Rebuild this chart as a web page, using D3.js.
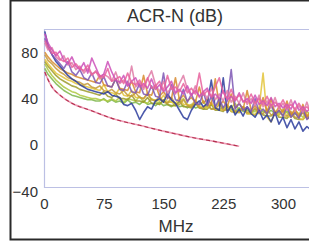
<!DOCTYPE html>
<html>
<head>
<meta charset="utf-8">
<script src="https://cdn.jsdelivr.net/npm/d3@7"></script>
<style>
  body { margin: 0; background: #fff; }
  text { font-family: "Liberation Sans", Arial, sans-serif; fill: #333; }
</style>
</head>
<body>
<div id="chart"></div>
<script>
// sample grid of the analyser sweep (MHz)
const freqs = [1].concat(d3.range(5, 340, 5));

const pink    = [90,85,79,80,74,72,75,67,70,66,64,69,61,63,60,58,66,55,57,59,53,62,54,52,56,50,58,49,51,55,47,60,48,50,46,53,45,49,44,62,43,47,42,50,58,45,40,48,39,43,38,37,44,36,40,35,42,34,37,33,39,32,35,31,36,30,33,29];
const magenta = [96,88,82,77,81,73,70,76,68,65,71,62,75,67,59,61,72,63,56,54,60,51,55,58,50,53,49,57,48,52,46,50,55,45,48,44,51,43,47,42,46,49,41,44,40,47,39,42,38,45,37,40,36,43,35,38,34,41,33,36,32,35,31,38,30,33,29,32];
const rose    = [88,82,84,76,73,77,69,71,65,68,62,66,60,64,57,61,59,55,63,53,56,51,68,50,54,48,57,64,52,46,55,45,50,44,53,60,48,42,51,41,46,40,49,39,44,38,47,37,42,36,45,35,40,34,43,33,38,32,41,31,36,30,39,29,34,28,37,27];
const orange  = [80,76,72,69,66,64,62,61,59,58,57,56,55,54,60,52,51,50,57,49,48,47,55,46,45,60,44,43,52,42,46,41,40,58,39,43,38,41,37,50,36,40,35,57,34,38,33,44,32,36,31,47,30,34,29,41,28,40,27,33,28,38,26,31,25,35,24,30];
const tan     = [78,73,70,66,63,61,58,57,55,54,52,53,50,49,51,47,46,48,45,44,47,43,42,45,41,40,44,39,38,42,37,36,41,35,35,39,34,33,38,32,32,36,31,31,35,30,30,34,29,29,33,28,28,32,27,27,31,26,26,30,25,25,29,24,24,28,23,23];
const olive   = [72,68,64,60,57,55,53,51,50,48,47,46,45,44,43,46,42,41,44,40,40,39,43,38,38,37,41,36,36,35,39,35,34,34,38,33,33,32,36,32,31,31,35,30,30,29,33,29,28,28,32,27,27,26,30,26,25,25,29,24,24,23,27,23,22,22,26,21];
const lime    = [70,65,60,56,53,50,48,46,45,43,42,41,40,40,39,39,38,40,38,41,37,40,39,38,42,37,36,40,38,35,39,36,38,34,37,40,35,33,36,34,38,32,35,33,37,31,34,32,36,30,33,31,28,29,32,30,27,34,29,26,31,28,25,30,27,24,29,26];
const green   = [66,61,57,53,50,47,45,43,42,41,40,39,39,38,38,40,37,39,37,38,36,39,36,37,35,38,35,36,34,37,34,35,33,36,33,34,32,35,32,33,31,34,31,32,30,33,30,31,29,32,29,30,28,31,28,29,27,30,27,28,26,29,26,27,25,28,25,26];
const yellow  = [74,70,66,62,60,58,56,55,53,52,51,50,49,48,47,52,46,45,44,49,43,42,47,41,41,40,45,39,39,38,43,37,37,36,41,35,35,34,39,33,33,32,37,31,31,30,35,29,29,28,33,27,27,26,32,62,24,20,28,26,30,25,24,29,23,22,27,21];
const blue    = [98,86,78,72,68,64,60,57,55,52,50,48,47,46,45,44,46,43,42,41,35,34,36,30,22,28,33,31,38,40,37,44,39,36,30,24,22,30,35,38,33,36,56,32,30,58,28,34,26,31,25,33,27,24,30,22,26,20,28,18,24,15,22,14,20,12,16,13];
const purple  = [92,84,78,74,70,66,72,63,60,65,58,56,62,54,53,59,51,50,57,48,47,55,46,45,53,44,43,51,42,41,62,40,52,39,38,48,37,44,36,35,46,34,42,33,40,32,38,65,31,36,30,33,29,40,28,31,27,35,26,30,25,33,24,28,23,31,22,26];

// limit line (MHz, dB)
const limitF = [1, 4, 10, 20, 35, 58, 90, 120, 150, 183, 215, 245];
const limitV = [63, 58, 50, 43, 36, 30, 22, 17, 12, 7, 3, -1];

const xTicks = [0, 75, 150, 225, 300];
const yTicks = [80, 40, 0, -40];

const series = [
  {name: 'green', values: green, color: '#7cb64a'},
  {name: 'lime', values: lime, color: '#aec83e'},
  {name: 'olive', values: olive, color: '#9c9a2c'},
  {name: 'yellow', values: yellow, color: '#e3c43a'},
  {name: 'tan', values: tan, color: '#c49a3a'},
  {name: 'orange', values: orange, color: '#d78a2e'},
  {name: 'blue', values: blue, color: '#2b3c9c'},
  {name: 'purple', values: purple, color: '#7c56b4'},
  {name: 'rose', values: rose, color: '#df7aa6'},
  {name: 'magenta', values: magenta, color: '#cc4fb8'},
  {name: 'pink', values: pink, color: '#e8609c'}
];

const W = 309, H = 242;
const plot = {left: 44, top: 29, bottom: 187, right: 330};

const svg = d3.select('#chart').append('svg')
    .attr('width', W)
    .attr('height', H);

const x = d3.scaleLinear().domain([0, 300]).range([44, 283]);
const y = d3.scaleLinear().domain([-40, 100]).range([191.5, 29]);

// outer frame
svg.append('rect')
    .attr('x', 10.5).attr('y', 0.5)
    .attr('width', 400).attr('height', 239)
    .attr('fill', 'none')
    .attr('stroke', '#2a2a2a')
    .attr('stroke-width', 2);

svg.append('defs').append('clipPath').attr('id', 'clip')
  .append('rect')
    .attr('x', plot.left).attr('y', plot.top - 2)
    .attr('width', plot.right - plot.left)
    .attr('height', plot.bottom - plot.top + 2);

// plot area border
svg.append('path')
    .attr('d', 'M' + plot.right + ',' + (plot.top + 0.5) + 'H' + (plot.left + 0.5) + 'V' + (plot.bottom + 0.5) + 'H' + plot.right)
    .attr('fill', 'none')
    .attr('stroke', '#bcc0e4')
    .attr('stroke-width', 1.2);

const line = d3.line()
    .x((d, i) => x(freqs[i]))
    .y(d => y(d));

const g = svg.append('g').attr('clip-path', 'url(#clip)');

g.selectAll('.trace')
  .data(series)
  .enter().append('path')
    .attr('class', 'trace')
    .attr('d', d => line(d.values))
    .attr('fill', 'none')
    .attr('stroke', d => d.color)
    .attr('stroke-width', 1.6)
    .attr('stroke-linejoin', 'round')
    .attr('opacity', 0.85);

// limit line: pink with darker dashes on top
const limitLine = d3.line()
    .curve(d3.curveMonotoneX)
    .x((d, i) => x(limitF[i]))
    .y(d => y(d));

g.append('path')
    .attr('d', limitLine(limitV))
    .attr('fill', 'none')
    .attr('stroke', '#ee9ab4')
    .attr('stroke-width', 1.6);

g.append('path')
    .attr('d', limitLine(limitV))
    .attr('fill', 'none')
    .attr('stroke', '#b3304e')
    .attr('stroke-width', 1.1)
    .attr('stroke-dasharray', '4,3');

// axes
const xAxis = svg.append('g')
    .attr('transform', 'translate(0,' + plot.bottom + ')')
    .call(d3.axisBottom(x).tickValues(xTicks).tickSize(0).tickPadding(11));
xAxis.select('.domain').remove();
xAxis.selectAll('text')
    .attr('fill', '#333')
    .style('font-size', '15px')
    .style('font-family', '"Liberation Sans", Arial, sans-serif');

const yAxis = svg.append('g')
    .attr('transform', 'translate(' + plot.left + ',0)')
    .call(d3.axisLeft(y).tickValues(yTicks).tickSize(0).tickPadding(6));
yAxis.select('.domain').remove();
yAxis.selectAll('text')
    .attr('fill', '#333')
    .style('font-size', '15px')
    .style('font-family', '"Liberation Sans", Arial, sans-serif');

// titles
svg.append('text')
    .attr('x', 175)
    .attr('y', 22)
    .attr('text-anchor', 'middle')
    .style('font-size', '18px')
    .text('ACR-N (dB)');

svg.append('text')
    .attr('x', 176)
    .attr('y', 232)
    .attr('text-anchor', 'middle')
    .style('font-size', '17px')
    .text('MHz');
</script>
</body>
</html>
